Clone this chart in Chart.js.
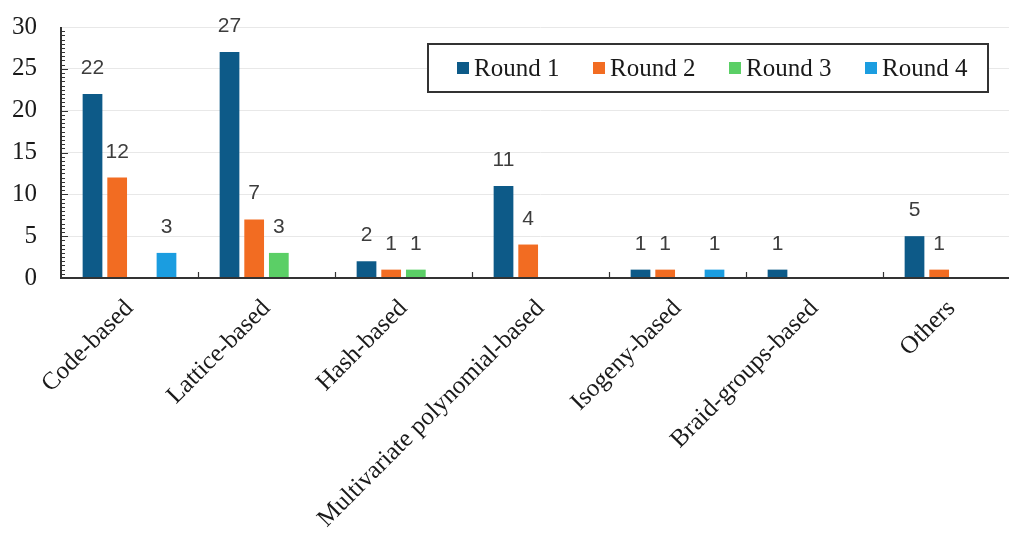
<!DOCTYPE html>
<html>
<head>
<meta charset="utf-8">
<script src="https://cdn.jsdelivr.net/npm/chart.js@4/dist/chart.umd.min.js"></script>
<style>
  html, body { margin: 0; padding: 0; background: #ffffff; overflow: hidden; }
  #wrap { width: 1022px; height: 541px; }
</style>
</head>
<body>
<div id="wrap"><canvas id="c" width="1022" height="541"></canvas></div>
<script>
// Categories of post-quantum schemes and the number submitted per round
const categories = ['Code-based', 'Lattice-based', 'Hash-based', 'Multivariate polynomial-based',
                    'Isogeny-based', 'Braid-groups-based', 'Others'];
const round1 = [22, 27, 2, 11, 1, 1, 5];
const round2 = [12, 7, 1, 4, 1, 0, 1];
const round3 = [0, 3, 1, 0, 0, 0, 0];
const round4 = [3, 0, 0, 0, 1, 0, 0];
const seriesNames = ['Round 1', 'Round 2', 'Round 3', 'Round 4'];
const seriesColors = ['#0d5a88', '#f26c22', '#5bcf66', '#1b9de0'];
const yTicks = [0, 5, 10, 15, 20, 25, 30];

const serif = '"Liberation Serif", "Times New Roman", serif';
const sans = '"Liberation Sans", Arial, sans-serif';

// Value labels above every non-zero bar
const valueLabels = {
  id: 'valueLabels',
  afterDatasetsDraw(chart) {
    const ctx = chart.ctx;
    ctx.save();
    ctx.font = '21px ' + sans;
    ctx.fillStyle = '#3d3d3d';
    ctx.textAlign = 'center';
    ctx.textBaseline = 'alphabetic';
    chart.data.datasets.forEach((ds, i) => {
      const meta = chart.getDatasetMeta(i);
      meta.data.forEach((bar, j) => {
        const v = ds.data[j];
        if (!v) return;
        ctx.fillText(String(v), bar.x, bar.y - 20);
      });
    });
    ctx.restore();
  }
};

// Axis decorations: inner minor ticks on y, separators between categories on x
const axisMarks = {
  id: 'axisMarks',
  afterDraw(chart) {
    const ctx = chart.ctx;
    const ys = chart.scales.y, xs = chart.scales.x;
    const area = chart.chartArea;
    ctx.save();
    ctx.strokeStyle = '#333333';
    ctx.lineWidth = 1.2;
    ctx.beginPath();
    for (let v = 0.5; v < 30; v += 0.5) {
      const y = Math.round(ys.getPixelForValue(v)) + 0.5;
      const len = (v % 5 === 0) ? 7 : 4;
      ctx.moveTo(area.left, y);
      ctx.lineTo(area.left + len, y);
    }
    for (let k = 1; k < categories.length; k++) {
      const x = Math.round((xs.getPixelForValue(k - 1) + xs.getPixelForValue(k)) / 2) + 0.5;
      ctx.moveTo(x, area.bottom);
      ctx.lineTo(x, area.bottom - 6);
    }
    ctx.stroke();
    // axis lines
    ctx.lineWidth = 2;
    ctx.beginPath();
    ctx.moveTo(area.left, area.top);
    ctx.lineTo(area.left, area.bottom);
    ctx.lineTo(area.right + 2, area.bottom);
    ctx.stroke();
    ctx.restore();
  }
};

// Framed legend laid out in a single row
const boxLegend = {
  id: 'boxLegend',
  afterDraw(chart) {
    const ctx = chart.ctx;
    const left = 428, top = 44, right = 988, bottom = 92;
    ctx.save();
    ctx.fillStyle = '#ffffff';
    ctx.fillRect(left, top, right - left, bottom - top);
    ctx.strokeStyle = '#333333';
    ctx.lineWidth = 2;
    ctx.strokeRect(left, top, right - left, bottom - top);
    ctx.font = '25px ' + serif;
    ctx.textBaseline = 'middle';
    ctx.textAlign = 'left';
    const cy = (top + bottom) / 2;
    const starts = [457, 593, 729, 865];
    chart.data.datasets.forEach((ds, i) => {
      ctx.fillStyle = ds.backgroundColor;
      ctx.fillRect(starts[i], cy - 6, 12, 12);
      ctx.fillStyle = '#1a1a1a';
      ctx.fillText(ds.label, starts[i] + 17, cy + 1);
    });
    ctx.restore();
  }
};

const seriesData = [round1, round2, round3, round4];

new Chart(document.getElementById('c'), {
  type: 'bar',
  data: {
    labels: categories,
    datasets: seriesNames.map((name, i) => ({
      label: name,
      data: seriesData[i],
      backgroundColor: seriesColors[i],
      borderWidth: 0,
      categoryPercentage: 0.72,
      barPercentage: 0.8
    }))
  },
  options: {
    responsive: false,
    animation: false,
    layout: { padding: { top: 27, right: 2, left: 0, bottom: 0 } },
    plugins: { legend: { display: false }, tooltip: { enabled: false } },
    scales: {
      x: {
        grid: { display: false, drawTicks: false },
        border: { display: false },
        ticks: {
          color: '#1a1a1a',
          font: { family: serif, size: 25 },
          minRotation: 45,
          maxRotation: 45,
          padding: 16,
          autoSkip: false
        },
        afterFit(scale) {
          scale.height = 541 - 278;
          scale.paddingLeft = 0;
          scale.paddingRight = 0;
        }
      },
      y: {
        min: 0,
        max: 30,
        afterBuildTicks(scale) { scale.ticks = yTicks.map(v => ({ value: v })); },
        grid: { color: '#e8e8e8', lineWidth: 1, drawTicks: false },
        border: { display: false },
        ticks: {
          color: '#1a1a1a',
          font: { family: serif, size: 25 },
          padding: 24
        },
        afterFit(scale) {
          scale.width = 61;
          scale.paddingTop = 0;
          scale.paddingBottom = 0;
        }
      }
    }
  },
  plugins: [valueLabels, axisMarks, boxLegend]
});
</script>
</body>
</html>
